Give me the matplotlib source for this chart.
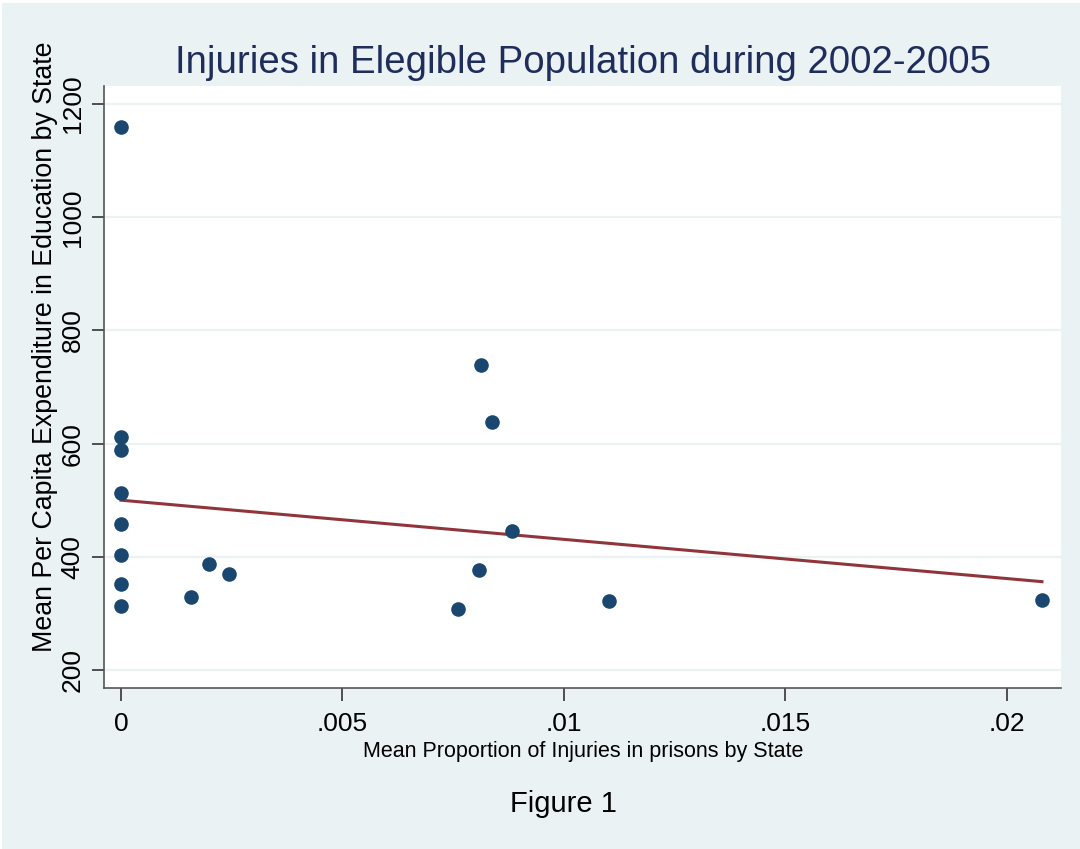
import matplotlib.pyplot as plt
from matplotlib.patches import Rectangle

plt.rcParams['font.family'] = ['Liberation Sans', 'DejaVu Sans']

# mean proportion of injuries in prisons (x) vs mean per capita education spending (y)
injury_prop = [0, 0, 0, 0, 0, 0, 0, 0,
               0.00159, 0.00198, 0.00243, 0.00813, 0.00837,
               0.00883, 0.00808, 0.00761, 0.01101, 0.02079]
expenditure = [1159, 612, 589, 513, 458, 403, 352, 313,
               328, 387, 370, 739, 638,
               446, 377, 307, 321, 324]

# fitted line
fit_x = [0, 0.02079]
fit_y = [500, 356]

yticks = [200, 400, 600, 800, 1000, 1200]
xticks = [0, 0.005, 0.01, 0.015, 0.02]
xtick_labels = ['0', '.005', '.01', '.015', '.02']

bg = '#EAF2F3'
fig = plt.figure(figsize=(10.8, 8.49), dpi=100)
fig.patch.set_facecolor('white')
fig.patches.append(Rectangle((0.002, 0), 0.998, 0.9965, transform=fig.transFigure,
                             facecolor=bg, edgecolor='none', zorder=-10))

ax = fig.add_axes([0.0963, 0.1896, 0.8861, 0.7091])
ax.set_facecolor('white')

ax.plot(injury_prop, expenditure, 'o', color='#1A476F', markersize=10.5,
        markeredgewidth=0, zorder=3)
ax.plot(fit_x, fit_y, '-', color='#90353B', linewidth=2.2, zorder=2)

ax.set_xlim(-0.000383, 0.02122)
ax.set_ylim(168, 1232)
ax.set_yticks(yticks)
ax.set_yticklabels([str(v) for v in yticks], rotation=90, va='center')
ax.set_xticks(xticks)
ax.set_xticklabels(xtick_labels)
ax.tick_params(axis='both', labelsize=19, length=9, width=1.2, color='#333333', direction='out')
ax.tick_params(axis='x', pad=8)
ax.tick_params(axis='y', pad=5)

ax.grid(axis='y', color=bg, linewidth=1.6)
ax.set_axisbelow(True)
for side in ['top', 'right']:
    ax.spines[side].set_visible(False)
for side in ['left', 'bottom']:
    ax.spines[side].set_color('#555555')
    ax.spines[side].set_linewidth(1.2)

fig.text(0.5397, 0.914, 'Injuries in Elegible Population during 2002-2005',
         ha='center', va='baseline', fontsize=27.6, color='#1F2D5C')
fig.text(0.5403, 0.1084, 'Mean Proportion of Injuries in prisons by State',
         ha='center', va='baseline', fontsize=15.5)
fig.text(0.042, 0.592, 'Mean Per Capita Expenditure in Education by State',
         ha='center', va='center', rotation=90, fontsize=19.3)
fig.text(0.522, 0.0439, 'Figure 1', ha='center', va='baseline', fontsize=21)

fig.savefig('out.png', dpi=100, facecolor=fig.get_facecolor())
